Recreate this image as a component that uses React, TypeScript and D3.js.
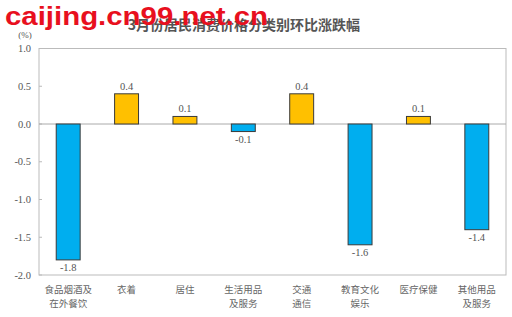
import React from "react";
import * as d3 from "d3";

const categories = [
  ["食品烟酒及", "在外餐饮"],
  ["衣着"],
  ["居住"],
  ["生活用品", "及服务"],
  ["交通", "通信"],
  ["教育文化", "娱乐"],
  ["医疗保健"],
  ["其他用品", "及服务"],
];
const values = [-1.8, 0.4, 0.1, -0.1, 0.4, -1.6, 0.1, -1.4];
const yTicks = [1.0, 0.5, 0.0, -0.5, -1.0, -1.5, -2.0];
const title = "3月份居民消费价格分类别环比涨跌幅";
const watermark = "caijing.cn99.net.cn";

export default function App() {
  const W = 512, H = 317;
  const left = 39, right = 506, top = 48.5, bottom = 275;
  const x = d3.scaleBand<number>().domain(d3.range(values.length)).range([left, right]).paddingInner(0.59).paddingOuter(0.295);
  const y = d3.scaleLinear().domain([-2, 1]).range([bottom, top]);
  const serif = "'Liberation Serif', 'DejaVu Serif', serif";
  const cjk = "'Noto Sans CJK SC', sans-serif";
  return (
    <svg width={W} height={H} style={{ position: "absolute", left: 0, top: 0, background: "#fff" }}>
      <rect x={0} y={0} width={W} height={H} fill="#fff" />
      <text x={244} y={30} textAnchor="middle" fontFamily={cjk} fontSize={14} fontWeight="bold" fill="#555">{title}</text>
      <text x={5} y={25} fontFamily="'Liberation Sans', Arial, sans-serif" fontSize={25} fontWeight="bold" fill="#e8101e" textLength={263} lengthAdjust="spacingAndGlyphs">{watermark}</text>
      <text x={25} y={38} textAnchor="middle" fontFamily={serif} fontSize={9} fill="#555">(%)</text>
      <rect x={left} y={y(1)} width={right - left} height={y(-2) - y(1)} fill="none" stroke="#bbb" strokeWidth={1} />
      {yTicks.map((t) => (
        <g key={t}>
          <line x1={left} x2={left + 3} y1={y(t)} y2={y(t)} stroke="#bbb" />
          <text x={31} y={y(t) + 3.5} textAnchor="end" fontFamily={serif} fontSize={10.5} fill="#555">{t.toFixed(1)}</text>
        </g>
      ))}
      <line x1={left} x2={right} y1={y(0)} y2={y(0)} stroke="#aaa" strokeWidth={1} />
      {values.map((v, i) => {
        const bx = x(i)!;
        const y0 = y(Math.max(0, v));
        const y1 = y(Math.min(0, v));
        return (
          <g key={i}>
            <rect x={bx} y={y0} width={x.bandwidth()} height={y1 - y0} fill={v >= 0 ? "#FFC000" : "#00AEEF"} stroke="#3a3a3a" strokeWidth={1} />
            <text x={bx + x.bandwidth() / 2} y={v >= 0 ? y0 - 4 : y1 + 11} textAnchor="middle" fontFamily={serif} fontSize={10.5} fill="#555">{v.toFixed(1)}</text>
          </g>
        );
      })}
      {categories.map((lines, i) => (
        <text key={i} x={x(i)! + x.bandwidth() / 2} textAnchor="middle" fontFamily={cjk} fontSize={9.5} fill="#666">
          {lines.map((l, j) => (
            <tspan key={j} x={x(i)! + x.bandwidth() / 2} y={293 + j * 14}>{l}</tspan>
          ))}
        </text>
      ))}
    </svg>
  );
}
